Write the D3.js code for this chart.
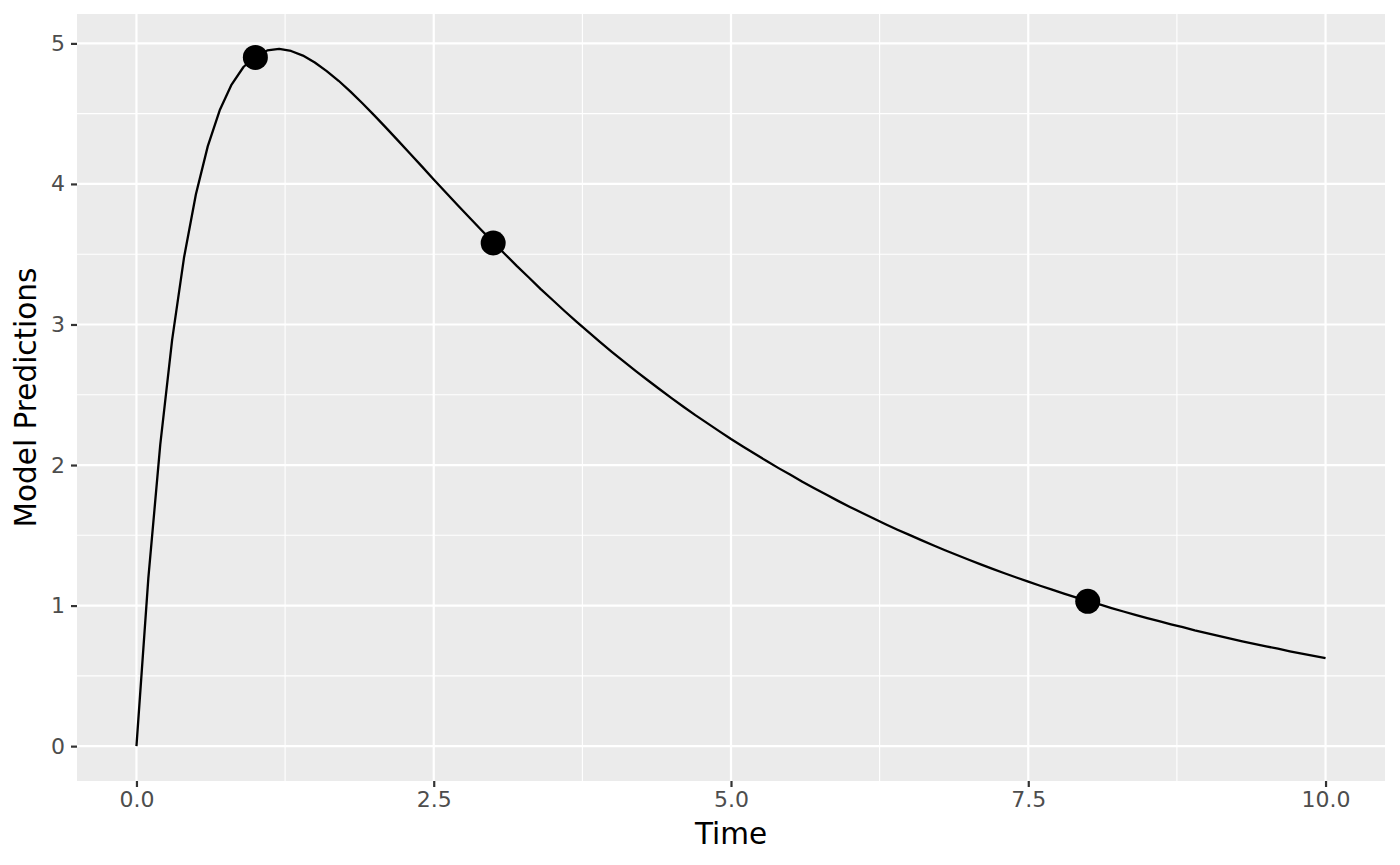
<!DOCTYPE html>
<html>
<head>
<meta charset="utf-8">
<script src="https://cdn.jsdelivr.net/npm/d3@7"></script>
<style>
  body { margin: 0; background: #fff; }
  svg { display: block; font-family: "DejaVu Sans", sans-serif; }
</style>
</head>
<body>
<svg id="chart" width="1400" height="865"></svg>
<script>
const predTime = d3.range(0, 101).map(i => i / 10);
const predValue = [
  0.000, 1.195, 2.143, 2.891, 3.476, 3.927, 4.269, 4.524, 4.707, 4.832,
  4.909, 4.950, 4.961, 4.946, 4.913, 4.864, 4.803, 4.734, 4.657, 4.574,
  4.488, 4.399, 4.308, 4.217, 4.125, 4.032, 3.941, 3.850, 3.761, 3.672,
  3.586, 3.500, 3.415, 3.334, 3.252, 3.174, 3.096, 3.021, 2.947, 2.875,
  2.804, 2.736, 2.668, 2.603, 2.539, 2.476, 2.415, 2.355, 2.298, 2.241,
  2.185, 2.132, 2.080, 2.028, 1.978, 1.930, 1.881, 1.835, 1.790, 1.745,
  1.702, 1.661, 1.620, 1.579, 1.540, 1.503, 1.466, 1.429, 1.394, 1.360,
  1.326, 1.293, 1.261, 1.230, 1.200, 1.170, 1.141, 1.113, 1.085, 1.059,
  1.033, 1.008, 0.982, 0.958, 0.934, 0.911, 0.889, 0.867, 0.846, 0.824,
  0.804, 0.784, 0.765, 0.746, 0.728, 0.710, 0.693, 0.675, 0.658, 0.642,
  0.626
];
// Observed points
const obsTime = [1, 3, 8];
const obsValue = [4.90, 3.58, 1.03];

const xTicks = [0, 2.5, 5, 7.5, 10];
const xMinor = [1.25, 3.75, 6.25, 8.75];
const yTicks = [0, 1, 2, 3, 4, 5];
const yMinor = [0.5, 1.5, 2.5, 3.5, 4.5];

const svg = d3.select("#chart");
const panel = { left: 77, right: 1385, top: 14, bottom: 781 };

const yMax = d3.max(predValue.concat(obsValue));
const xExt = [0, 10];
const x = d3.scaleLinear()
  .domain([xExt[0] - 0.05 * (xExt[1] - xExt[0]), xExt[1] + 0.05 * (xExt[1] - xExt[0])])
  .range([panel.left, panel.right]);
const y = d3.scaleLinear()
  .domain([-0.05 * yMax, yMax * 1.05])
  .range([panel.bottom, panel.top]);

// panel background
svg.append("rect")
  .attr("x", panel.left).attr("y", panel.top)
  .attr("width", panel.right - panel.left).attr("height", panel.bottom - panel.top)
  .attr("fill", "#EBEBEB");

const grid = svg.append("g");
grid.selectAll(".xminor").data(xMinor).join("line")
  .attr("x1", d => x(d)).attr("x2", d => x(d))
  .attr("y1", panel.top).attr("y2", panel.bottom)
  .attr("stroke", "#fff").attr("stroke-width", 1.1);
grid.selectAll(".yminor").data(yMinor).join("line")
  .attr("y1", d => y(d)).attr("y2", d => y(d))
  .attr("x1", panel.left).attr("x2", panel.right)
  .attr("stroke", "#fff").attr("stroke-width", 1.1);
grid.selectAll(".xmajor").data(xTicks).join("line")
  .attr("x1", d => x(d)).attr("x2", d => x(d))
  .attr("y1", panel.top).attr("y2", panel.bottom)
  .attr("stroke", "#fff").attr("stroke-width", 2.2);
grid.selectAll(".ymajor").data(yTicks).join("line")
  .attr("y1", d => y(d)).attr("y2", d => y(d))
  .attr("x1", panel.left).attr("x2", panel.right)
  .attr("stroke", "#fff").attr("stroke-width", 2.2);

// line
const pts = predTime.map((t, i) => [t, predValue[i]]);
svg.append("path")
  .datum(pts)
  .attr("fill", "none")
  .attr("stroke", "#000")
  .attr("stroke-width", 2.3)
  .attr("stroke-linejoin", "round")
  .attr("d", d3.line().x(d => x(d[0])).y(d => y(d[1])));

// points
svg.selectAll(".obs").data(obsTime.map((t, i) => [t, obsValue[i]])).join("circle")
  .attr("cx", d => x(d[0])).attr("cy", d => y(d[1]))
  .attr("r", 12.5).attr("fill", "#000");

// axes
const xAxis = d3.axisBottom(x).tickValues(xTicks).tickFormat(d3.format(".1f"))
  .tickSize(6).tickPadding(4);
const gx = svg.append("g").attr("transform", `translate(0,${panel.bottom})`).call(xAxis);
gx.select(".domain").remove();
gx.selectAll(".tick line").attr("stroke", "#333").attr("stroke-width", 2.2);
gx.selectAll(".tick text").attr("fill", "#4D4D4D").style("font-size", "22px")
  .style("font-family", "DejaVu Sans");

const yAxis = d3.axisLeft(y).tickValues(yTicks).tickFormat(d3.format("d"))
  .tickSize(6).tickPadding(6);
const gy = svg.append("g").attr("transform", `translate(${panel.left},0)`).call(yAxis);
gy.select(".domain").remove();
gy.selectAll(".tick line").attr("stroke", "#333").attr("stroke-width", 2.2);
gy.selectAll(".tick text").attr("fill", "#4D4D4D").style("font-size", "22px")
  .style("font-family", "DejaVu Sans");

// axis titles
svg.append("text")
  .attr("x", (panel.left + panel.right) / 2).attr("y", 844)
  .attr("text-anchor", "middle").attr("fill", "#000")
  .style("font-size", "29.5px").text("Time");
svg.append("text")
  .attr("transform", `translate(36,${(panel.top + panel.bottom) / 2}) rotate(-90)`)
  .attr("text-anchor", "middle").attr("fill", "#000")
  .style("font-size", "29.5px").text("Model Predictions");
</script>
</body>
</html>
